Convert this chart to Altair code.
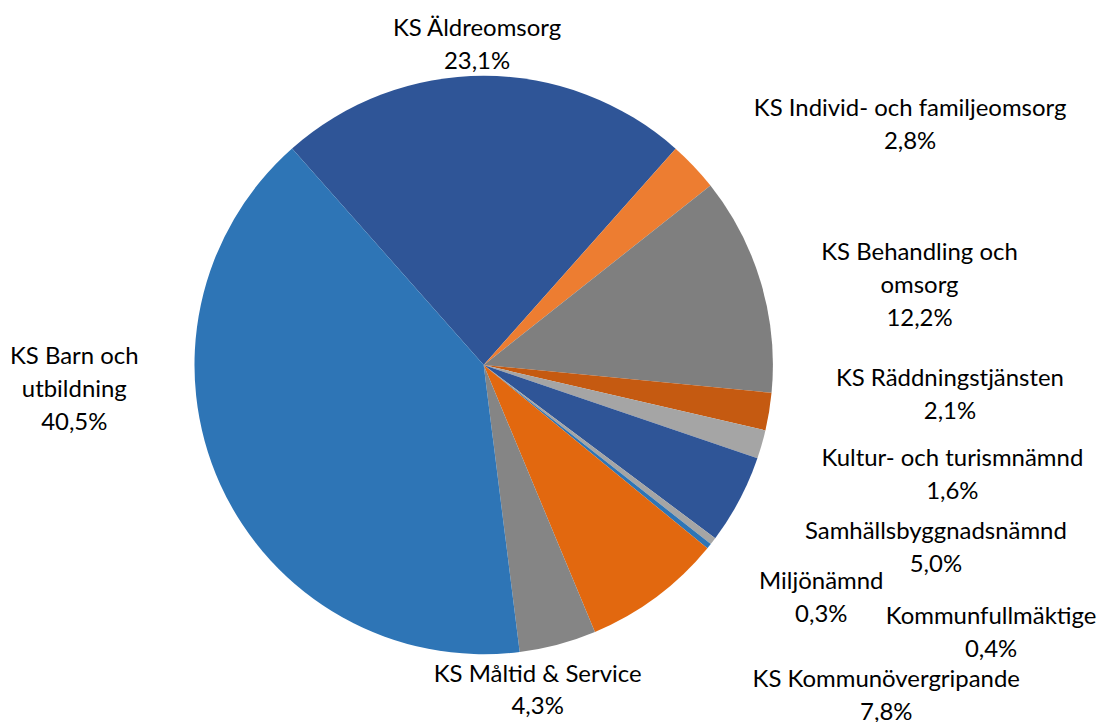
import math
import altair as alt
import pandas as pd

# --- data ---------------------------------------------------------------
categories = [
    "KS Äldreomsorg",
    "KS Individ- och familjeomsorg",
    "KS Behandling och omsorg",
    "KS Räddningstjänsten",
    "Kultur- och turismnämnd",
    "Samhällsbyggnadsnämnd",
    "Kommunfullmäktige",
    "Miljönämnd",
    "KS Kommunövergripande",
    "KS Måltid & Service",
    "KS Barn och utbildning",
]
shares = [23.1, 2.8, 12.2, 2.1, 1.6, 5.0, 0.4, 0.3, 7.8, 4.3, 40.5]

# label text as wrapped in the original
label_names = [
    "KS Äldreomsorg",
    "KS Individ- och familjeomsorg",
    "KS Behandling och\nomsorg",
    "KS Räddningstjänsten",
    "Kultur- och turismnämnd",
    "Samhällsbyggnadsnämnd",
    "Kommunfullmäktige",
    "Miljönämnd",
    "KS Kommunövergripande",
    "KS Måltid & Service",
    "KS Barn och\nutbildning",
]

# --- styling (kept apart from the data) ----------------------------------
colors = ["#2F5597", "#ED7D31", "#7F7F7F", "#C55A11", "#A5A5A5", "#2F5597",
          "#A5A5A5", "#2E75B6", "#E2680F", "#858585", "#2E75B6"]
# label block centres, polar (degrees clockwise from 12 o'clock, pixels from centre)
label_angle_deg = [-1.2, 60.7, 79.75, 93.7, 103.3, 112.1, 117.9, 124.65, 129.5, 170.6, 266.5]
label_dist = [320.6, 490.3, 444.1, 468.5, 482.9, 489.4, 575.7, 411.5, 523.2, 331.4, 411.3]
start_deg = -41.5
line_h = 33

texts = [n + "\n" + f"{v:.1f}".replace(".", ",") + "%" for n, v in zip(label_names, shares)]

# Vega anchors a multi-line text at its first line: move each anchor up
lab_theta, lab_r = [], []
for a, d, t in zip(label_angle_deg, label_dist, texts):
    n_lines = t.count("\n") + 1
    x = d * math.sin(math.radians(a))
    y = -d * math.cos(math.radians(a)) - (n_lines - 1) / 2 * line_h
    lab_theta.append(math.atan2(x, -y))
    lab_r.append(math.hypot(x, y))

df = pd.DataFrame({
    "category": categories,
    "share": shares,
    "order": list(range(len(categories))),
    "label": texts,
    "lab_theta": lab_theta,
    "lab_r": lab_r,
})

W, H = 1089, 714
cx, cy = 477, 357
s = math.radians(start_deg)

base = alt.Chart(df)

pie = base.mark_arc(radius=290, stroke=None).encode(
    theta=alt.Theta("share:Q", stack=True, scale=alt.Scale(range=[s, s + 2 * math.pi])),
    color=alt.Color("category:N", scale=alt.Scale(domain=categories, range=colors), legend=None),
    order=alt.Order("order:Q"),
    x=alt.value(cx),
    y=alt.value(cy),
)

labels = base.mark_text(
    font="Lato", fontSize=24, lineBreak="\n", lineHeight=line_h,
    align="center", baseline="middle", color="#000000",
).encode(
    theta=alt.Theta("lab_theta:Q", scale=None, stack=False),
    radius=alt.Radius("lab_r:Q", scale=None),
    text="label:N",
    x=alt.value(cx),
    y=alt.value(cy),
)

chart = (
    alt.layer(pie, labels)
    .resolve_scale(theta="independent", radius="independent")
    .properties(width=W, height=H, padding=0, background="white")
    .configure_view(stroke=None)
)

chart.save("out.html", embed_options={"renderer": "svg", "actions": False})
